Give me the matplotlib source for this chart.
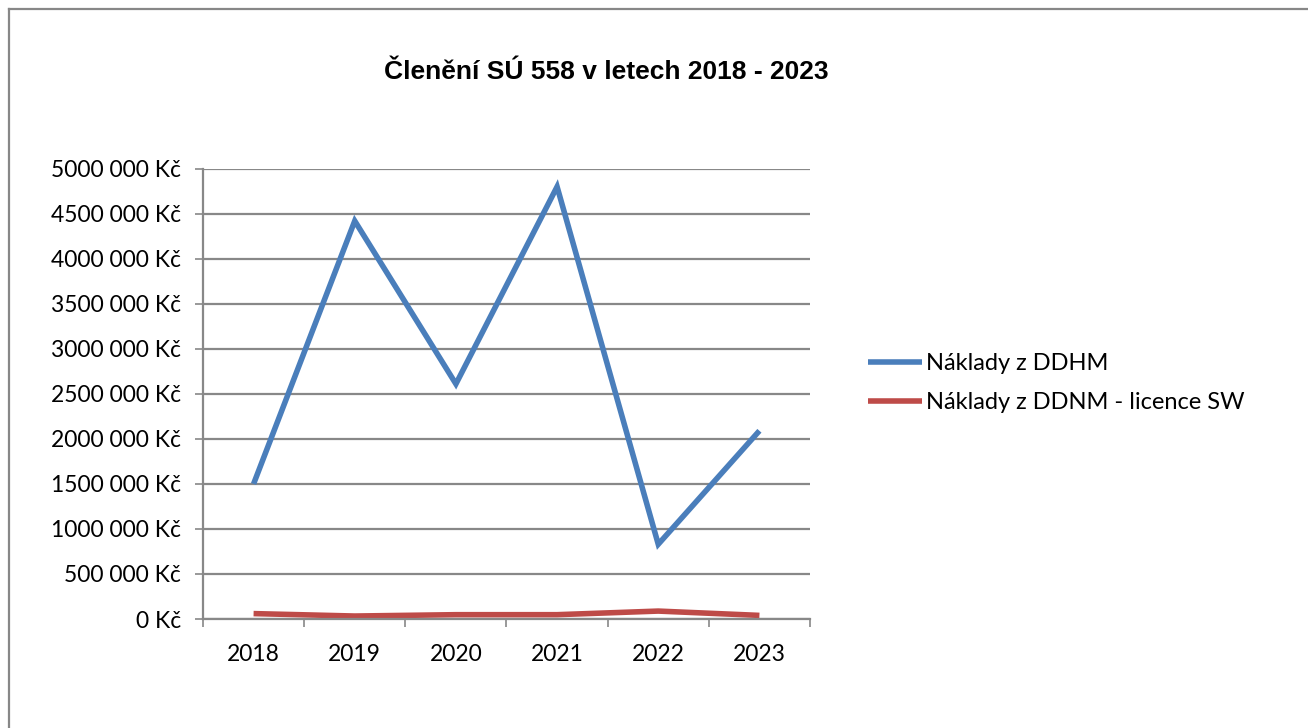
import matplotlib
matplotlib.use("Agg")
import matplotlib.pyplot as plt
from matplotlib.lines import Line2D
from matplotlib.ticker import FuncFormatter, FixedLocator

years = ["2018", "2019", "2020", "2021", "2022", "2023"]
ddhm = [1500000, 4420000, 2610000, 4800000, 830000, 2090000]
ddnm_sw = [60000, 33000, 48000, 48000, 88000, 40000]
series_names = ["Náklady z DDHM", "Náklady z DDNM - licence SW"]

blue = "#4A7EBB"
red = "#BE4B48"
grid_col = "#888888"


def kc(v, pos):
    v = int(round(v))
    if v < 1000:
        return "%d Kč" % v
    return "%d %03d Kč" % (v // 1000, v % 1000)


fig = plt.figure(figsize=(13.08, 7.28), dpi=100)
ax = fig.add_axes([203 / 1308, 1 - 619 / 728, (810 - 203) / 1308, (619 - 168.7) / 728])

x = list(range(len(years)))
ax.plot(x, ddhm, color=blue, lw=4.0, solid_capstyle="butt", solid_joinstyle="miter", label=series_names[0])
ax.plot(x, ddnm_sw, color=red, lw=4.0, solid_capstyle="butt", label=series_names[1])

ax.set_xlim(-0.5, len(years) - 0.5)
ax.set_ylim(0, 5000000)
ax.set_yticks(range(0, 5000001, 500000))
ax.yaxis.set_major_formatter(FuncFormatter(kc))
ax.grid(axis="y", color=grid_col, lw=1.6)
ax.set_axisbelow(True)

ax.xaxis.set_major_locator(FixedLocator([i - 0.5 for i in range(len(years) + 1)]))
ax.xaxis.set_minor_locator(FixedLocator(x))
ax.set_xticklabels([])
ax.set_xticklabels(years, minor=True)
ax.tick_params(axis="x", which="major", length=6, width=1.2, color=grid_col)
ax.tick_params(axis="x", which="minor", length=0, pad=18, labelsize=16.5)
ax.tick_params(axis="y", length=6, width=1.2, color=grid_col, pad=10, labelsize=16.5)

for side in ["top", "right"]:
    ax.spines[side].set_visible(False)
for side in ["left", "bottom"]:
    ax.spines[side].set_color(grid_col)
    ax.spines[side].set_linewidth(1.6)

for lbl in ax.get_yticklabels() + ax.get_xticklabels(minor=True):
    lbl.set_fontfamily("Lato")

fig.text(606 / 1308, 1 - 72 / 728, "Členění SÚ 558 v letech 2018 - 2023", ha="center", va="center",
         fontsize=19, fontweight="bold", family="Liberation Sans")

fig.legend(loc="center left", bbox_to_anchor=(868 / 1308, 1 - 383 / 728), frameon=False,
           borderpad=0, borderaxespad=0,
           handlelength=2.3, handletextpad=0.15, labelspacing=0.75,
           prop={"family": "Lato", "size": 17})

# outer chart border (only the top and left edges are visible in the crop)
fig.add_artist(Line2D([9 / 1308, 9 / 1308], [0, 1 - 9 / 728], transform=fig.transFigure, color="#878787", lw=1.6))
fig.add_artist(Line2D([9 / 1308, 1], [1 - 9 / 728, 1 - 9 / 728], transform=fig.transFigure, color="#878787", lw=1.6))

fig.savefig("out.png", dpi=100, facecolor="white")
